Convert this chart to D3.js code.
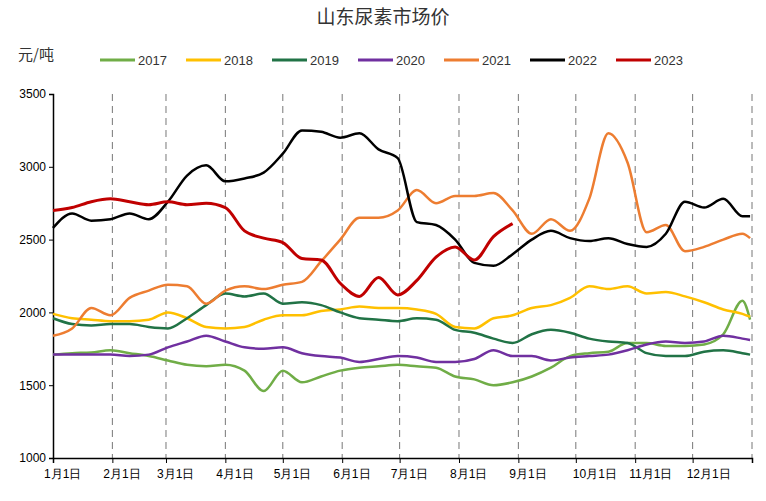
<!DOCTYPE html><html><head><meta charset="utf-8">
<script src="https://cdn.jsdelivr.net/npm/d3@7"></script>
<style>body{margin:0;background:#fff}</style></head><body><svg id="c" width="766" height="501"></svg>
<script>
const days=[0,10,20,30,40,50,60,70,80,90,100,110,120,130,140,150,160,170,180,190,200,210,220,230,240,250,260,270,280,290,300,310,320,330,340,350,360,364];
const monthLabels=["1月1日","2月1日","3月1日","4月1日","5月1日","6月1日","7月1日","8月1日","9月1日","10月1日","11月1日","12月1日"];
const monthStarts=[0,31,59,90,120,151,181,212,243,273,304,334,365];
const yTicks=[1000,1500,2000,2500,3000,3500];
const years=["2017","2018","2019","2020","2021","2022","2023"];
const colors=["#70ad47","#ffc000","#217346","#7030a0","#ed7d31","#000000","#c00000"];
const s2017=[1710,1720,1725,1740,1720,1700,1670,1640,1630,1640,1600,1460,1600,1520,1560,1600,1620,1630,1640,1630,1620,1560,1540,1500,1520,1560,1620,1700,1720,1730,1790,1790,1770,1770,1780,1850,2080,1950];
const s2018=[1990,1960,1950,1940,1940,1950,2000,1960,1900,1890,1900,1950,1980,1980,2010,2020,2040,2030,2030,2020,1990,1900,1890,1960,1980,2030,2050,2100,2180,2160,2180,2130,2140,2110,2070,2020,1990,1970];
const s2019=[1960,1920,1910,1920,1920,1900,1890,1960,2050,2130,2110,2130,2060,2070,2050,2000,1960,1950,1940,1960,1950,1880,1860,1820,1790,1850,1880,1860,1820,1800,1790,1720,1700,1700,1730,1740,1720,1710];
const s2020=[1710,1710,1710,1710,1700,1710,1760,1800,1840,1800,1760,1750,1760,1720,1700,1690,1660,1680,1700,1690,1660,1660,1680,1740,1700,1700,1670,1690,1700,1710,1740,1780,1800,1790,1800,1840,1820,1810];
const s2021=[1840,1890,2030,1980,2100,2150,2190,2180,2060,2150,2180,2160,2190,2210,2350,2500,2650,2650,2700,2840,2750,2800,2800,2820,2700,2540,2640,2560,2780,3230,3030,2550,2600,2420,2450,2500,2540,2510];
const s2022=[2580,2680,2630,2640,2680,2640,2760,2940,3010,2900,2920,2960,3090,3250,3240,3200,3230,3120,3060,2620,2600,2500,2340,2320,2400,2500,2560,2510,2490,2510,2470,2450,2540,2760,2720,2780,2660,2660];
const s2023=[2700,2720,2760,2780,2760,2740,2760,2740,2750,2720,2560,2510,2480,2370,2360,2200,2110,2240,2120,2220,2380,2450,2360,2520,2610,null,null,null,null,null,null,null,null,null,null,null,null,null];
const series=[s2017,s2018,s2019,s2020,s2021,s2022,s2023];

const svg=d3.select("#c");
const x=d3.scaleLinear().domain([0,365]).range([53,752]);
const y=d3.scaleLinear().domain([1000,3500]).range([458,94]);
const f="'Liberation Sans',Arial,sans-serif";
svg.append("text").attr("x",383).attr("y",24).attr("text-anchor","middle").attr("font-size",19).attr("font-family","'Noto Sans CJK SC'").attr("fill","#333").text("山东尿素市场价");
svg.append("text").attr("x",18).attr("y",60).attr("font-size",15).attr("font-family","'Noto Sans CJK SC'").attr("fill","#333").text("元/吨");
years.forEach((yr,i)=>{const lx=100+i*86;
 svg.append("line").attr("x1",lx).attr("x2",lx+35).attr("y1",60).attr("y2",60).attr("stroke",colors[i]).attr("stroke-width",3);
 svg.append("text").attr("x",lx+38).attr("y",65).attr("font-size",13).attr("font-family",f).attr("fill","#333").text(yr);});
// grid
svg.append("g").selectAll("line").data(monthStarts.slice(1)).join("line").attr("x1",d=>x(d)).attr("x2",d=>x(d)).attr("y1",94).attr("y2",458).attr("stroke","#777").attr("stroke-dasharray","7,5");
const ya=svg.append("g").attr("transform","translate(53,0)").call(d3.axisLeft(y).tickValues(yTicks).tickSize(4).tickFormat(d3.format("d")));
ya.selectAll("text").attr("font-size",12).attr("font-family",f).attr("fill","#000");
ya.select(".domain").attr("stroke-width",1.5);
const xa=svg.append("g").attr("transform","translate(0,458)").call(d3.axisBottom(x).tickValues(monthStarts).tickSize(5).tickFormat(""));
xa.select(".domain").attr("stroke-width",1.5);
svg.append("g").selectAll("text").data(monthLabels).join("text").attr("x",(d,i)=>x(monthStarts[i])+(i>=9?(i==9?6:3):0)).attr("y",478).attr("text-anchor","start").attr("font-size",12).attr("font-family",f).text(d=>d).attr("transform",(d,i)=>"translate(-9,0)");
const line=d3.line().defined(d=>d[1]!=null).x(d=>x(d[0])).y(d=>y(d[1])).curve(d3.curveMonotoneX);
series.forEach((s,i)=>{svg.append("path").attr("d",line(days.map((d,j)=>[d,s[j]]))).attr("fill","none").attr("stroke",colors[i]).attr("stroke-width",i==6?3:2.5);});
</script></body></html>
